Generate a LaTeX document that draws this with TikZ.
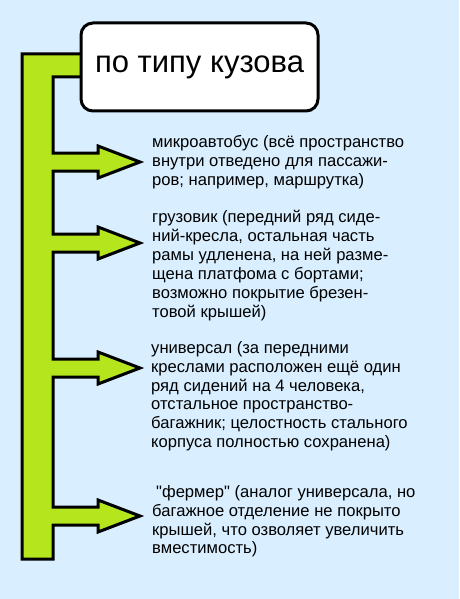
\documentclass[tikz,border=0pt]{standalone}
\usepackage{fontspec}
\setmainfont{Liberation Sans}[Ligatures=TeXOff]
\usetikzlibrary{positioning}
\definecolor{skybg}{HTML}{D9EFFF}
\definecolor{limeg}{HTML}{B5E61D}

\begin{document}
\begin{tikzpicture}[
  x=1pt, y=-1pt,
  title/.style={
    draw=black, line width=3pt, fill=white, rounded corners=12pt,
    minimum width=237pt, minimum height=88pt, inner sep=0pt,
    font=\fontsize{31}{36}\selectfont
  },
  note/.style={
    anchor=north west, inner sep=0pt, align=left, text=black,
    font=\fontsize{16.6}{18.9}\selectfont
  },
  spine/.style={draw=black, line width=3pt, fill=limeg, line join=miter},
]

% Background
\fill[skybg] (0,0) rectangle (459,599);

% ===== Green spine with branch arrows =====
\draw[spine] (22,54) -- (110,54) -- (110,77) -- (53,77)
  \foreach \y in {162,243,368,516} {
    -- (53,\y-9) -- (98,\y-9) -- (98,\y-16) -- (140,\y)
    -- (98,\y+16) -- (98,\y+9) -- (53,\y+9)}
  -- (53,559) -- (22,559) -- cycle;

% Title
\node[title] (bodytype) at (199.5,67) {по типу кузова};

% ===== Descriptions =====
\node[note] (minibus) at (152,135.5)
  {микроавтобус (всё пространство\\
   внутри отведено для пассажи-\\
   ров; например, маршрутка)};

\node[note] (truck) at (152,210)
  {грузовик (передний ряд сиде-\\
   ний-кресла, остальная часть\\
   рамы удленена, на ней разме-\\
   щена платфома с бортами;\\
   возможно покрытие брезен-\\
   товой крышей)};

\node[note] (wagon) at (151,341)
  {универсал (за передними\\
   креслами расположен ещё один\\
   ряд сидений на 4 человека,\\
   отстальное пространство-\\
   багажник; целостность стального\\
   корпуса полностью сохранена)};

\node[note] (farmer) at (152,485)
  {\hspace*{4pt}"фермер" (аналог универсала, но\\
   багажное отделение не покрыто\\
   крышей, что озволяет увеличить\\
   вместимость)};

\end{tikzpicture}
\end{document}
